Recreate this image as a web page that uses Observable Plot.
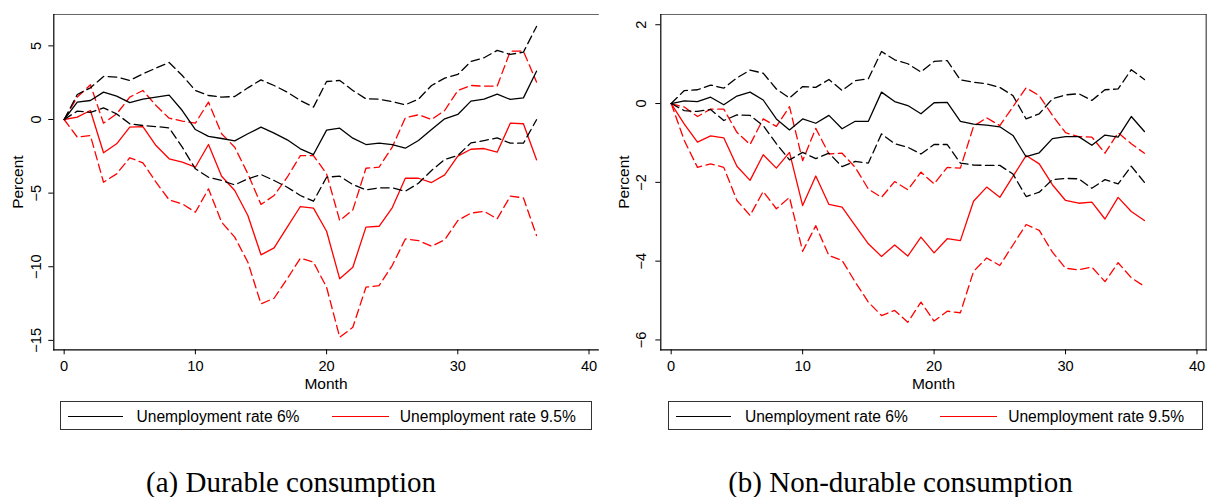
<!DOCTYPE html>
<html><head><meta charset="utf-8">
<script src="https://cdn.jsdelivr.net/npm/d3@7"></script>
<script src="https://cdn.jsdelivr.net/npm/@observablehq/plot@0.6"></script>
<style>
body{margin:0;background:#fff;}
#wrap{position:relative;width:1208px;height:497px;overflow:hidden;font-family:"Liberation Sans",Arial,sans-serif;background:#fff;}
.panel{position:absolute;top:0;}
.legend{position:absolute;top:400.5px;height:29.5px;border:1px solid #333;box-sizing:border-box;}
.legend .sw{position:absolute;top:14px;height:0;border-top:1.3px solid #000;}
.legend .lab{position:absolute;top:1px;line-height:27px;font-size:15.6px;color:#000;white-space:nowrap;}
.caption{position:absolute;top:467.7px;line-height:29px;font-family:"Liberation Serif","Times New Roman",serif;font-size:29px;text-align:center;color:#000;white-space:nowrap;}
</style>
</head><body>
<div id="wrap"></div>
<script>
const months = [0,1,2,3,4,5,6,7,8,9,10,11,12,13,14,15,16,17,18,19,20,21,22,23,24,25,26,27,28,29,30,31,32,33,34,35,36];
const xTicks = [0,10,20,30,40];
const yTicksDur = [5,0,-5,-10,-15];
const yTicksNon = [2,0,-2,-4,-6];
const seriesNames = ["Unemployment rate 6%","Unemployment rate 9.5%"];
const captions = ["(a) Durable consumption","(b) Non-durable consumption"];

// Durable consumption
const dur6   = [0,1.18,1.29,1.86,1.59,1.15,1.38,1.52,1.65,0.61,-0.68,-1.15,-1.29,-1.45,-0.97,-0.52,-0.93,-1.38,-1.99,-2.38,-0.72,-0.59,-1.27,-1.70,-1.61,-1.70,-1.95,-1.43,-0.68,0.05,0.34,1.25,1.38,1.72,1.36,1.47,3.28];
const dur6Hi = [0,1.70,2.15,2.92,2.88,2.65,3.10,3.49,3.87,2.99,1.97,1.63,1.52,1.56,2.15,2.69,2.31,1.86,1.29,0.84,2.58,2.65,1.97,1.40,1.38,1.22,1.00,1.38,2.31,2.81,3.06,3.94,4.19,4.69,4.42,4.57,6.32];
const dur6Lo = [0,0.57,0.48,0.79,0.38,-0.29,-0.41,-0.48,-0.57,-1.88,-3.35,-3.92,-4.14,-4.44,-4.03,-3.74,-4.14,-4.60,-5.16,-5.55,-3.92,-3.85,-4.42,-4.78,-4.64,-4.64,-4.87,-4.33,-3.46,-2.72,-2.45,-1.59,-1.43,-1.25,-1.61,-1.61,-0.02];
const dur95   = [0,0.16,0.61,-2.26,-1.65,-0.52,-0.48,-1.77,-2.67,-2.90,-3.24,-1.70,-3.85,-4.82,-6.52,-9.19,-8.72,-7.31,-5.91,-6.02,-7.59,-10.82,-10.03,-7.31,-7.25,-6.00,-3.99,-3.99,-4.28,-3.76,-2.49,-2.02,-1.97,-2.22,-0.25,-0.29,-2.74];
const dur95Hi = [0,1.52,2.36,-0.25,0.38,1.52,1.97,0.95,0.09,-0.11,-0.25,1.18,-0.97,-1.88,-3.69,-5.77,-5.16,-3.92,-2.45,-2.45,-3.69,-6.86,-6.14,-3.31,-3.24,-1.88,0.11,0.32,0.00,0.61,1.97,2.31,2.26,2.26,4.64,4.64,2.54];
const dur95Lo = [0,-1.20,-1.09,-4.26,-3.69,-2.60,-2.94,-4.26,-5.46,-5.73,-6.30,-4.71,-6.97,-7.99,-9.69,-12.52,-12.14,-10.82,-9.42,-9.69,-11.39,-14.79,-14.11,-11.39,-11.28,-9.92,-8.11,-8.22,-8.61,-8.17,-6.86,-6.36,-6.23,-6.75,-5.21,-5.32,-7.88];

// Non-durable consumption
const nd6   = [0,0.07,0.05,0.16,-0.03,0.19,0.29,0.09,-0.39,-0.67,-0.39,-0.50,-0.30,-0.64,-0.45,-0.45,0.29,0.05,-0.05,-0.26,0.02,0.03,-0.45,-0.52,-0.55,-0.59,-0.81,-1.35,-1.25,-0.89,-0.84,-0.84,-1.06,-0.80,-0.85,-0.33,-0.71];
const nd6Hi = [0,0.33,0.35,0.47,0.39,0.65,0.85,0.77,0.37,0.14,0.43,0.41,0.61,0.33,0.58,0.63,1.32,1.11,1.01,0.80,1.07,1.09,0.60,0.54,0.50,0.41,0.20,-0.39,-0.26,0.12,0.22,0.25,0.08,0.35,0.37,0.86,0.61];
const nd6Lo = [0,-0.18,-0.20,-0.15,-0.43,-0.29,-0.30,-0.56,-1.02,-1.43,-1.24,-1.40,-1.26,-1.60,-1.47,-1.51,-0.77,-1.02,-1.11,-1.28,-1.04,-1.04,-1.51,-1.56,-1.57,-1.57,-1.79,-2.36,-2.25,-1.93,-1.90,-1.91,-2.15,-1.93,-2.04,-1.59,-2.00];
const nd95   = [0,-0.52,-0.98,-0.82,-0.87,-1.59,-1.95,-1.30,-1.64,-1.24,-2.59,-1.84,-2.56,-2.63,-3.10,-3.56,-3.88,-3.59,-3.87,-3.39,-3.79,-3.43,-3.48,-2.48,-2.12,-2.38,-1.85,-1.32,-1.53,-2.06,-2.46,-2.53,-2.50,-2.93,-2.38,-2.74,-2.97];
const nd95Hi = [0,-0.09,-0.33,-0.14,-0.14,-0.73,-1.04,-0.39,-0.58,-0.08,-1.45,-0.63,-1.28,-1.26,-1.62,-2.17,-2.38,-1.98,-2.19,-1.74,-2.04,-1.62,-1.64,-0.58,-0.36,-0.56,-0.08,0.40,0.20,-0.30,-0.74,-0.84,-0.85,-1.26,-0.74,-1.02,-1.26];
const nd95Lo = [0,-0.94,-1.62,-1.53,-1.62,-2.46,-2.84,-2.23,-2.67,-2.38,-3.75,-3.10,-3.86,-3.98,-4.53,-5.04,-5.38,-5.25,-5.55,-5.04,-5.52,-5.27,-5.31,-4.26,-3.92,-4.11,-3.59,-3.07,-3.22,-3.77,-4.18,-4.22,-4.15,-4.52,-4.04,-4.42,-4.64];

const fmt = d => d < 0 ? "\u2212" + Math.abs(d) : String(d);
const toRows = vals => months.map((m, i) => ({month: m, value: vals[i]}));
const DASH = "8.5,4.5";

function lineMarks(s6, s6Hi, s6Lo, s95, s95Hi, s95Lo) {
  const mk = (vals, stroke, dashed) => Plot.line(toRows(vals), {
    x: "month", y: "value", stroke, strokeWidth: 1.3,
    strokeDasharray: dashed ? DASH : null, strokeLinejoin: "round"
  });
  return [
    mk(s95Hi, "#ff0000", true), mk(s95Lo, "#ff0000", true), mk(s95, "#ff0000", false),
    mk(s6Hi, "#000000", true), mk(s6Lo, "#000000", true), mk(s6, "#000000", false)
  ];
}

function panel({marginLeft, marginRight, yDomain, yTicks, tickPad, percentDx, rightBorder, lines}) {
  return Plot.plot({
    width: 604, height: 397,
    marginLeft, marginRight, marginTop: 14, marginBottom: 47.7,
    x: {domain: [-0.79, 40.7]},
    y: {domain: yDomain},
    style: {fontFamily: "'Liberation Sans', Arial, sans-serif", fontSize: "14.6px", color: "#000", background: "transparent", overflow: "visible"},
    marks: [
      Plot.frame({anchor: "top", stroke: "#666", strokeWidth: 1.2}),
      ...(rightBorder ? [Plot.frame({anchor: "right", stroke: "#444", strokeWidth: 1.2})] : []),
      ...lines,
      Plot.frame({anchor: "left", stroke: "#000", strokeWidth: 1.2}),
      Plot.frame({anchor: "bottom", stroke: "#000", strokeWidth: 1.2}),
      Plot.axisX({ticks: xTicks, tickSize: 5, tickPadding: 5.5, label: null, tickFormat: fmt}),
      Plot.axisY({ticks: yTicks, tickSize: 5, tickRotate: -90, tickPadding: tickPad, label: null, tickFormat: fmt}),
      Plot.text(["Percent"], {frameAnchor: "left", dx: percentDx, rotate: -90, textAnchor: "middle", lineAnchor: "middle", text: d => d, fontSize: 15.5}),
      Plot.text(["Month"], {frameAnchor: "bottom", dy: 34, textAnchor: "middle", lineAnchor: "middle", text: d => d, fontSize: 15.5})
    ]
  });
}

const wrap = document.getElementById("wrap");

const p1 = panel({marginLeft: 53.3, marginRight: 6.3, yDomain: [-15.64, 7.13], yTicks: yTicksDur, tickPad: 8.3, percentDx: -36,
  rightBorder: false, lines: lineMarks(dur6, dur6Hi, dur6Lo, dur95, dur95Hi, dur95Lo)});
p1.classList.add("panel"); p1.style.left = "0px";
wrap.appendChild(p1);

const p2 = panel({marginLeft: 56.3, marginRight: 2.3, yDomain: [-6.25, 2.26], yTicks: yTicksNon, tickPad: 9.5, percentDx: -37,
  rightBorder: true, lines: lineMarks(nd6, nd6Hi, nd6Lo, nd95, nd95Hi, nd95Lo)});
p2.classList.add("panel"); p2.style.left = "604px";
wrap.appendChild(p2);

function legend(left, width) {
  const box = document.createElement("div");
  box.className = "legend";
  box.style.left = left + "px";
  box.style.width = width + "px";
  const items = [
    {sw: 6.5, swW: 55, color: "#000", lab: 75.5, text: seriesNames[0]},
    {sw: 271, swW: 57, color: "#ff0000", lab: 338.8, text: seriesNames[1]}
  ];
  for (const it of items) {
    const s = document.createElement("div");
    s.className = "sw";
    s.style.left = it.sw + "px"; s.style.width = it.swW + "px"; s.style.borderTopColor = it.color;
    box.appendChild(s);
    const t = document.createElement("div");
    t.className = "lab";
    t.style.left = it.lab + "px";
    t.textContent = it.text;
    box.appendChild(t);
  }
  wrap.appendChild(box);
}
legend(60, 532);
legend(668.4, 535);

function caption(left, width, text) {
  const c = document.createElement("div");
  c.className = "caption";
  c.style.left = left + "px"; c.style.width = width + "px";
  c.textContent = text;
  wrap.appendChild(c);
}
caption(0, 582, captions[0]);
caption(604, 593, captions[1]);
</script>
</body></html>
